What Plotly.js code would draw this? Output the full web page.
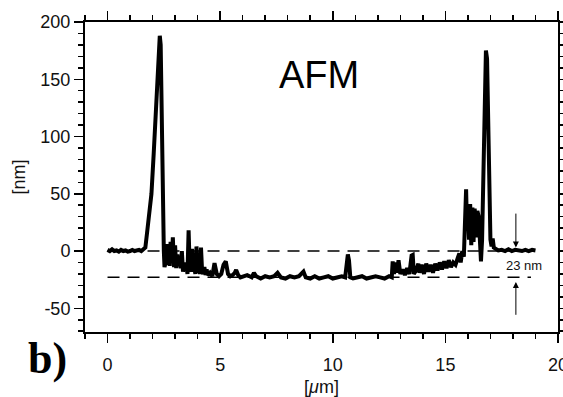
<!DOCTYPE html>
<html>
<head>
<meta charset="utf-8">
<script src="https://cdn.plot.ly/plotly-3.0.1.min.js"></script>
<style>html,body{margin:0;padding:0;background:#fff;}#chart{width:563px;height:397px;}</style>
</head>
<body>
<div id="chart"></div>
<script>
// AFM height profile, position [µm]
const profileX = [
  0, 0.1, 0.2, 0.3, 0.4, 0.5, 0.6, 0.7, 0.8, 0.9, 1.0, 1.1, 1.2, 1.3, 1.4, 1.5, 1.6,
  1.68, 1.75, 1.82, 1.88, 1.95, 2.05, 2.12, 2.2, 2.27, 2.32, 2.36, 2.39, 2.42, 2.46, 2.5, 2.53,
  2.58, 2.63, 2.67, 2.72, 2.76, 2.8, 2.85, 2.9, 2.95, 3.0, 3.05, 3.1, 3.15, 3.2, 3.25, 3.3, 3.35, 3.4, 3.45, 3.5, 3.55, 3.6, 3.65, 3.7, 3.75, 3.8, 3.85, 3.9, 3.95, 4.0, 4.05, 4.1, 4.15, 4.2, 4.25, 4.3, 4.35, 4.4, 4.45,
  4.55, 4.65, 4.75, 4.85, 4.95, 5.05, 5.15, 5.25, 5.35, 5.45, 5.55, 5.65, 5.71, 5.8, 5.9, 6.0, 6.2, 6.4, 6.5, 6.6, 6.8, 7.0, 7.2, 7.4, 7.55, 7.7, 7.9, 8.1, 8.3, 8.5, 8.7, 8.8, 9.0, 9.2, 9.4, 9.6, 9.8, 10.0, 10.2, 10.4, 10.55,
  10.62, 10.67, 10.72, 10.78, 10.9, 11.1, 11.3, 11.5, 11.7, 11.9, 12.1, 12.3, 12.5, 12.62,
  12.66, 12.72, 12.78, 12.85, 12.92, 13.0, 13.1, 13.2, 13.3, 13.4, 13.5, 13.55, 13.6, 13.7, 13.8, 13.85, 13.95, 14.05, 14.15, 14.25, 14.35, 14.45, 14.55, 14.65, 14.75, 14.85, 14.95, 15.05, 15.15, 15.25, 15.35, 15.45, 15.55, 15.62, 15.68, 15.75, 15.82,
  15.88, 15.92, 15.96, 16.0, 16.05, 16.1, 16.15, 16.2, 16.25, 16.3, 16.35, 16.42, 16.48, 16.53, 16.58, 16.63, 16.68, 16.74, 16.8, 16.85, 16.9, 16.95, 17.0, 17.05, 17.1, 17.15,
  17.25, 17.35, 17.5, 17.65, 17.8, 17.95, 18.1, 18.25, 18.4, 18.55, 18.7, 18.85, 19.0
];
// height [nm]
const profileY = [
  1, 0, 1.5, 0, 0.5, -0.5, 1, 0, 0.5, -0.5, 0, 1, 0, 0.5, 1, 0, 1.5,
  3, 15, 27, 33, 50, 85, 110, 140, 175, 188, 180, 130, 90, 45, 0, -14,
  -10, 6, -12, -5, -13, 8, -10, 12, -14, 5, -15, -3, -13, -8, -15, 0, -18, -10, -16, -12, -20, 18, -15, -18, 2, -18, -14, -20, 4, -19, -12, -20, 3, -18, -20, -14, -21, -16, -21,
  -19, -22, -10.5, -20, -22, -20, -12, -9, -20, -22, -21, -19, -16.5, -21, -23, -22, -21, -23, -19, -22, -24, -22, -23, -22, -19, -23, -24, -22, -23, -22, -18, -23, -24, -22, -24, -23, -22, -24, -23, -22, -23,
  -8, -3, -8, -23, -24, -23, -22, -24, -23, -22, -23, -24, -22, -23,
  -9, -20, -10, -19, -8, -20, -16, -21, -15, -20, -4, -3.5, -20, -17, -11, -19, -12, -20, -11, -18, -12, -19, -11, -17, -10, -16, -9, -15, -8, -14, -10, -12, -6, -2, -10, 0, -5,
  30, 54, 20, 40, 10, 41, 5, 38, 8, 37, 12, 35, 30, 5, -9, 10, 60, 140, 175, 168, 110, 40, 10, 4, 11, 3,
  2, 0.5, 1, 0, 1.5, 0, 1, 0.5, 0, 1, 0, 1, 0.5
];

const refLevels = [0, -23];      // dashed reference levels [nm]
const refSpan = [0, 18.8];       // x extent of the dashed lines
const stepLabel = '23 nm';
const xTicks = [0, 5, 10, 15, 20];
const yTicks = [-50, 0, 50, 100, 150, 200];

const FONT = '"Liberation Sans", Arial, Helvetica, sans-serif';

const trace = {
  x: profileX, y: profileY, type: 'scatter', mode: 'lines',
  line: {color: '#000', width: 4}, showlegend: false, hoverinfo: 'skip'
};

const shapes = refLevels.map(v => ({
  type: 'line', xref: 'x', yref: 'y', x0: refSpan[0], x1: refSpan[1], y0: v, y1: v,
  line: {color: '#000', width: 1.5, dash: '12px,8px'}, layer: 'below'
}));

const axisCommon = {
  showgrid: false, zeroline: false, showline: true, linecolor: '#000', linewidth: 2,
  mirror: 'allticks', ticks: 'outside', ticklen: 9, tickwidth: 1.5, tickcolor: '#000',
  ticklabeloverflow: 'allow',
  tickfont: {family: FONT, size: 18, color: '#111'}
};

const layout = {
  width: 563, height: 397,
  margin: {l: 85, r: 5, t: 22, b: 65},
  paper_bgcolor: '#fff', plot_bgcolor: '#fff',
  xaxis: Object.assign({}, axisCommon, {
    range: [-1, 20], tickmode: 'array', tickvals: xTicks, ticktext: xTicks.map(String),
    ticklabelstandoff: 6,
    minor: {dtick: 1, tick0: 0, ticks: 'outside', ticklen: 5, tickwidth: 1.5, tickcolor: '#000'},
    title: {text: '[<i>μ</i>m]', font: {family: FONT, size: 18, color: '#111'}, standoff: 10}
  }),
  yaxis: Object.assign({}, axisCommon, {
    range: [-70.7, 200], tickmode: 'array', tickvals: yTicks, ticktext: yTicks.map(String),
    minor: {dtick: 10, tick0: 0, ticks: 'outside', ticklen: 5, tickwidth: 1.5, tickcolor: '#000'},
    title: {text: '[nm]', font: {family: FONT, size: 18, color: '#111'}, standoff: 10}
  }),
  shapes: shapes,
  annotations: [
    {x: 9.4, y: 154, xref: 'x', yref: 'y', text: 'AFM', showarrow: false,
     font: {family: FONT, size: 38, color: '#000'}},
    {x: -0.08, y: -0.085, xref: 'paper', yref: 'paper', text: '<b>b)</b>', showarrow: false,
     xanchor: 'center', yanchor: 'middle',
     font: {family: '"Liberation Serif", "Times New Roman", serif', size: 44, color: '#000'}},
    {x: 18.5, y: -13, xref: 'x', yref: 'y', text: stepLabel, showarrow: false,
     font: {family: FONT, size: 13, color: '#111'}},
    {x: 18.13, y: refLevels[0] + 3, xref: 'x', yref: 'y', ax: 18.13, ay: 34, axref: 'x', ayref: 'y',
     text: '', showarrow: true, arrowhead: 2, arrowsize: 1.2, arrowwidth: 1, arrowcolor: '#000', standoff: 0},
    {x: 18.13, y: refLevels[1] - 4, xref: 'x', yref: 'y', ax: 18.13, ay: -57, axref: 'x', ayref: 'y',
     text: '', showarrow: true, arrowhead: 2, arrowsize: 1.2, arrowwidth: 1, arrowcolor: '#000', standoff: 0}
  ]
};

Plotly.newPlot('chart', [trace], layout, {displayModeBar: false, staticPlot: true});
</script>
</body>
</html>
